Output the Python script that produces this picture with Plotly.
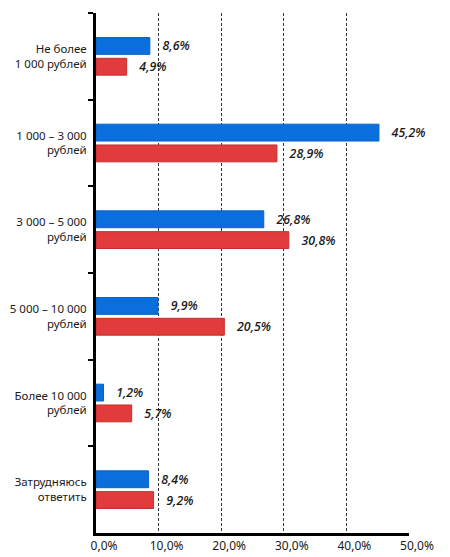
import plotly.graph_objects as go

categories = ['Не более<br>1 000 рублей', '1 000 – 3 000<br>рублей', '3 000 – 5 000<br>рублей',
              '5 000 – 10 000<br>рублей', 'Более 10 000<br>рублей', 'Затрудняюсь<br>ответить']
blue_values = [8.6, 45.2, 26.8, 9.9, 1.2, 8.4]
red_values = [4.9, 28.9, 30.8, 20.5, 5.7, 9.2]
tick_values = [0, 10, 20, 30, 40, 50]
tick_labels = ['0,0%', '10,0%', '20,0%', '30,0%', '40,0%', '50,0%']


def fmt(v):
    # comma decimal, pushed away from the bar end a bit
    return '\u00a0\u00a0\u00a0' + f'{v:.1f}'.replace('.', ',') + '%'


label_font = dict(family='Open Sans', size=12.5, color='#1a1a1a', style='italic', weight=600)

fig = go.Figure()
fig.add_trace(go.Bar(y=categories, x=blue_values, orientation='h',
                     marker=dict(color='#0a6fdc', line=dict(color='#0a62c4', width=1)),
                     text=[fmt(v) for v in blue_values], textposition='outside', cliponaxis=False,
                     textfont=label_font))
fig.add_trace(go.Bar(y=categories, x=red_values, orientation='h',
                     marker=dict(color='#e23b3b', line=dict(color='#c42e2e', width=1)),
                     text=[fmt(v) for v in red_values], textposition='outside', cliponaxis=False,
                     textfont=label_font))

# the page body adds an 8px offset, so the figure is sized 8px smaller
fig.update_layout(
    width=442, height=549,
    margin=dict(l=88, r=41, t=5, b=24),
    plot_bgcolor='white', paper_bgcolor='white',
    barmode='group', bargap=0.52, bargroupgap=0.19,
    showlegend=False,
    font=dict(family='Noto Sans', size=11, color='#1a1a1a'),
    xaxis=dict(range=[0, 50], tickvals=tick_values, ticktext=tick_labels, automargin=False,
               showgrid=True, gridcolor='#333333', griddash='3px,2px', gridwidth=1,
               showline=True, linecolor='black', linewidth=3, zeroline=False,
               ticklabelshift=8, tickfont=dict(size=12)),
    yaxis=dict(autorange='reversed', showline=True, linecolor='black', linewidth=3, automargin=False,
               ticks='outside', tickson='boundaries', ticklen=5, tickwidth=2, tickcolor='black',
               ticklabelstandoff=4, tickfont=dict(size=11.5)),
)

fig.write_html('out.html')
